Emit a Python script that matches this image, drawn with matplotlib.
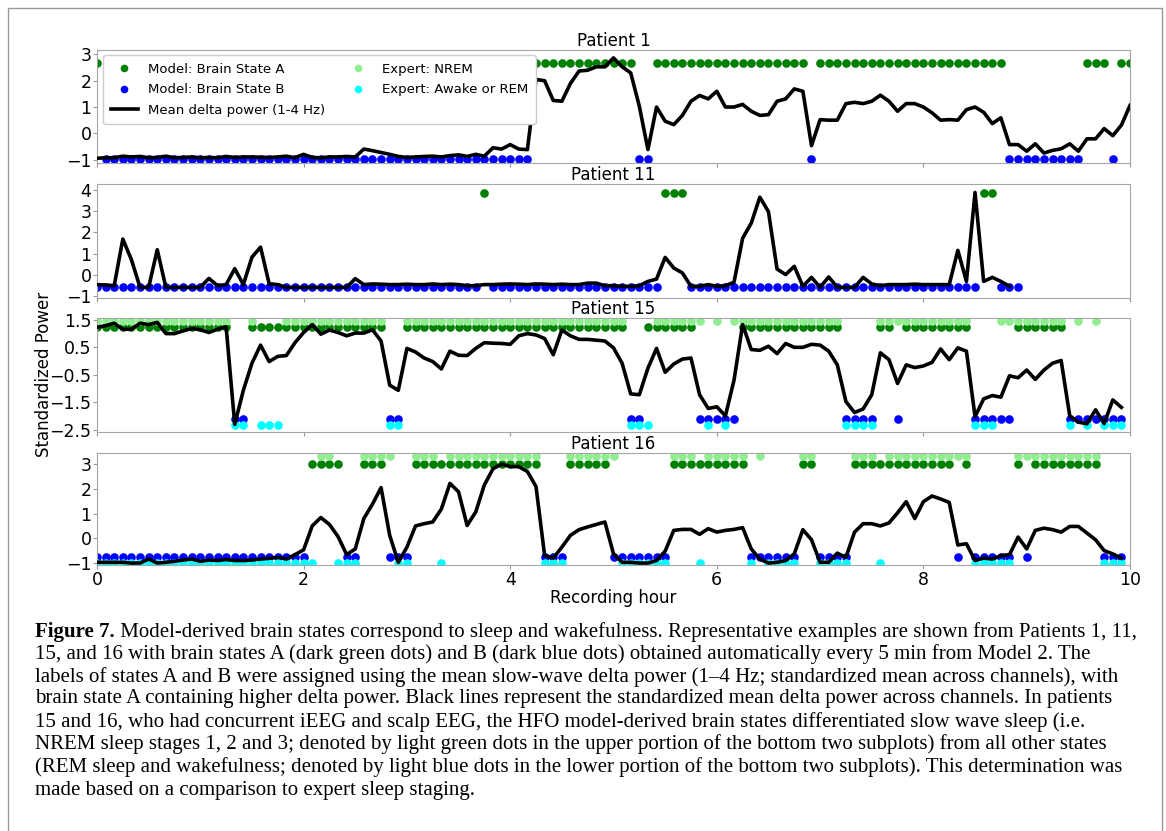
import numpy as np
import matplotlib.pyplot as plt
from matplotlib.lines import Line2D
from matplotlib.patches import Rectangle

# one value every 5 min
STEP_HOURS = 5 / 60

# --- mean delta power (standardized) per patient ---
p1_delta = [-0.95, -0.93, -0.93, -0.87, -0.9, -0.88, -0.93, -0.92, -0.87, -0.93,
            -0.92, -0.9, -0.93, -0.92, -0.93, -0.88, -0.92, -0.9, -0.9, -0.91,
            -0.92, -0.9, -0.87, -0.93, -0.8, -0.92, -0.93, -0.9, -0.9, -0.88,
            -0.9, -0.6, -0.66, -0.73, -0.8, -0.88, -0.92, -0.9, -0.88, -0.87,
            -0.9, -0.85, -0.82, -0.88, -0.8, -0.87, -0.55, -0.6, -0.43, -0.6,
            -0.62, 2.05, 2.0, 1.25, 1.22, 1.9, 2.37, 2.4, 2.53, 2.53,
            2.87, 2.53, 2.3, 1.03, -0.62, 1.0, 0.46, 0.33, 0.68, 1.22,
            1.44, 1.31, 1.6, 1.0, 1.0, 1.1, 0.84, 0.68, 0.71, 1.22,
            1.31, 1.69, 1.6, -0.47, 0.52, 0.5, 0.5, 1.13, 1.18, 1.13,
            1.22, 1.45, 1.22, 0.84, 1.13, 1.13, 1.0, 0.78, 0.5, 0.52,
            0.5, 0.9, 1.0, 0.8, 0.37, 0.59, -0.43, -0.43, -0.68, -0.4,
            -0.75, -0.65, -0.59, -0.4, -0.68, -0.21, -0.21, 0.18, -0.09, 0.31, 1.06]

p11_delta = [-0.45, -0.47, -0.5, 1.69, 0.72, -0.58, -0.58, 1.19, -0.58, -0.58,
             -0.58, -0.58, -0.58, -0.16, -0.5, -0.45, 0.3, -0.45, 0.84, 1.31,
             -0.41, -0.45, -0.58, -0.58, -0.58, -0.58, -0.58, -0.58, -0.58, -0.58,
             -0.17, -0.45, -0.42, -0.43, -0.45, -0.45, -0.43, -0.45, -0.45, -0.42,
             -0.45, -0.43, -0.45, -0.5, -0.5, -0.45, -0.45, -0.43, -0.42, -0.43,
             -0.45, -0.42, -0.43, -0.45, -0.43, -0.45, -0.45, -0.38, -0.38, -0.5,
             -0.5, -0.53, -0.53, -0.5, -0.3, -0.19, 0.83, 0.33, 0.1, -0.53,
             -0.53, -0.45, -0.53, -0.5, -0.34, 1.73, 2.44, 3.66, 2.98, 0.28,
             0.02, 0.41, -0.53, -0.11, -0.58, -0.09, -0.58, -0.58, -0.58, -0.11,
             -0.42, -0.5, -0.45, -0.45, -0.45, -0.43, -0.45, -0.45, -0.45, -0.45,
             1.16, -0.3, 3.88, -0.3, -0.11, -0.3, -0.53]

p15_delta = [1.23, 1.29, 1.38, 1.16, 1.16, 1.38, 1.33, 1.41, 1.0, 1.0,
             1.1, 1.19, 1.14, 1.04, 1.16, 1.25, -2.31, -1.07, -0.08, 0.58,
             -0.02, 0.17, 0.2, 0.67, 1.04, 1.33, 0.98, 1.13, 1.04, 0.92,
             1.02, 1.02, 1.14, 0.73, -0.88, -1.07, 0.46, 0.33, 0.11, -0.02,
             -0.29, 0.36, 0.21, 0.2, 0.46, 0.67, 0.65, 0.64, 0.61, 0.92,
             1.0, 0.95, 0.82, 0.23, 1.13, 0.92, 0.79, 0.79, 0.76, 0.73,
             0.48, -0.08, -1.2, -1.23, -0.26, 0.46, -0.41, -0.11, 0.07, 0.11,
             -1.23, -1.73, -1.67, -2.0, -0.7, 1.33, 0.42, 0.39, 0.54, 0.27,
             0.64, 0.5, 0.5, 0.61, 0.58, 0.36, -0.14, -1.48, -1.88, -1.75,
             -1.23, 0.3, 0.05, -0.82, -0.14, -0.24, -0.18, -0.05, 0.44, 0.05,
             0.48, 0.36, -2.03, -1.38, -1.26, -1.32, -0.54, -0.61, -0.33, -0.67,
             -0.33, -0.08, 0.02, -2.0, -2.23, -2.29, -1.78, -2.28, -1.42, -1.69]

p16_delta = [-0.97, -0.97, -0.97, -0.97, -1.0, -1.0, -0.84, -1.0, -0.97, -0.93,
             -0.88, -0.84, -0.93, -0.88, -0.9, -0.86, -0.9, -0.9, -0.88, -0.84,
             -0.81, -0.77, -0.84, -0.66, -0.47, 0.5, 0.84, 0.56, 0.07, -0.66,
             -0.43, 0.8, 1.38, 2.05, 0.12, -0.97, -0.36, 0.5, 0.59, 0.66,
             1.18, 2.22, 1.88, 0.52, 1.07, 2.16, 2.81, 3.0, 2.9, 2.9,
             2.7, 2.09, -0.7, -0.8, -0.36, 0.12, 0.35, 0.46, 0.56, 0.66,
             -0.63, -0.97, -0.97, -1.0, -1.0, -0.9, -0.52, 0.32, 0.36, 0.36,
             0.16, 0.39, 0.25, 0.32, 0.36, 0.43, -0.43, -0.84, -1.0, -0.97,
             -0.9, -0.63, 0.35, -0.06, -0.97, -0.97, -0.6, -0.77, 0.25, 0.59,
             0.59, 0.5, 0.62, 1.03, 1.48, 0.8, 1.48, 1.71, 1.59, 1.45,
             -0.27, -0.22, -0.9, -0.8, -0.84, -0.7, -0.66, 0.05, -0.43, 0.32,
             0.41, 0.35, 0.25, 0.48, 0.48, 0.21, -0.06, -0.5, -0.63, -0.81]

# --- model brain states (A/B), run lengths of 5-min epochs ---
p1_model = [("A", 1), ("B", 50), ("A", 12), ("B", 2), ("A", 18), ("B", 1),
            ("A", 22), ("B", 9), ("A", 3), ("B", 1), ("A", 2)]
p11_model = [("B", 45), ("A", 1), ("B", 20), ("A", 3), ("B", 34), ("A", 2), ("B", 3)]
p15_model = [("A", 16), ("B", 2), ("A", 16), ("B", 2), ("A", 26), ("B", 2), ("A", 6),
             ("B", 5), ("A", 12), ("B", 4), ("A", 2), ("B", 1), ("A", 8), ("B", 5),
             ("A", 6), ("B", 7)]
p16_model = [("B", 25), ("A", 4), ("B", 2), ("A", 3), ("B", 3), ("A", 15), ("B", 3),
             ("A", 5), ("B", 7), ("A", 9), ("B", 6), ("A", 2), ("B", 4), ("A", 12),
             ("B", 1), ("A", 1), ("B", 5), ("A", 1), ("B", 1), ("A", 8), ("B", 3)]

# --- expert sleep staging (N = NREM, W = awake or REM), only patients 15 and 16 ---
p15_expert = [("N", 16), ("W", 2), ("N", 1), ("W", 3), ("N", 12), ("W", 2), ("N", 26),
              ("W", 3), ("N", 6), ("W", 1), ("N", 1), ("W", 1), ("N", 13), ("W", 4),
              ("N", 11), ("W", 3), ("N", 8), ("W", 1), ("N", 1), ("W", 1), ("N", 1), ("W", 3)]
p16_expert = [("W", 26), ("N", 2), ("W", 3), ("N", 4), ("W", 2), ("N", 3), ("W", 1),
              ("N", 11), ("W", 3), ("N", 6), ("W", 6), ("N", 3), ("W", 1), ("N", 5),
              ("W", 1), ("N", 1), ("W", 4), ("N", 2), ("W", 4), ("N", 3), ("W", 1),
              ("N", 10), ("W", 5), ("N", 10), ("W", 3)]

# rows where the dots sit: A, B, NREM, awake
p1_levels = [2.68, -0.97, None, None]
p11_levels = [3.87, -0.58, None, None]
p15_levels = [1.23, -2.1, 1.45, -2.35]
p16_levels = [3.01, -0.74, 3.34, -0.99]

titles = ["Patient 1", "Patient 11", "Patient 15", "Patient 16"]
ylims = [(-1.13, 3.17), (-1.08, 4.28), (-2.59, 1.57), (-1.08, 3.45)]
yticks = [[-1, 0, 1, 2, 3], [-1, 0, 1, 2, 3, 4],
          [-2.5, -1.5, -0.5, 0.5, 1.5], [-1, 0, 1, 2, 3]]

caption = [
    "Model-derived brain states correspond to sleep and wakefulness. Representative examples are shown from Patients 1, 11,",
    "15, and 16 with brain states A (dark green dots) and B (dark blue dots) obtained automatically every 5 min from Model 2. The",
    "labels of states A and B were assigned using the mean slow-wave delta power (1\u20134 Hz; standardized mean across channels), with",
    "brain state A containing higher delta power. Black lines represent the standardized mean delta power across channels. In patients",
    "15 and 16, who had concurrent iEEG and scalp EEG, the HFO model-derived brain states differentiated slow wave sleep (i.e.",
    "NREM sleep stages 1, 2 and 3; denoted by light green dots in the upper portion of the bottom two subplots) from all other states",
    "(REM sleep and wakefulness; denoted by light blue dots in the lower portion of the bottom two subplots). This determination was",
    "made based on a comparison to expert sleep staging.",
]


def expand(runs):
    return np.array([lab for lab, n in runs for _ in range(n)])


def dots(ax, labels, which, level, color):
    x = np.arange(len(labels)) * STEP_HOURS
    sel = labels == which
    ax.plot(x[sel], np.full(sel.sum(), level), 'o', color=color, ms=6.2,
            mew=0, zorder=2)


W, H = 1166, 831
fig = plt.figure(figsize=(W / 100, H / 100), dpi=100)

# axes boxes in pixels: top, bottom
boxes = [(50, 163), (184, 298), (318, 432), (453, 565)]
left, right = 97, 1130

patients = [
    (p1_delta, p1_model, None, p1_levels),
    (p11_delta, p11_model, None, p11_levels),
    (p15_delta, p15_model, p15_expert, p15_levels),
    (p16_delta, p16_model, p16_expert, p16_levels),
]

axes = []
for k, (delta, model, expert, lev) in enumerate(patients):
    top, bot = boxes[k]
    ax = fig.add_axes([left / W, 1 - bot / H, (right - left) / W, (bot - top) / H])
    axes.append(ax)

    m = expand(model)
    dots(ax, m, "A", lev[0], "green")
    dots(ax, m, "B", lev[1], "blue")
    if expert is not None:
        e = expand(expert)
        dots(ax, e, "N", lev[2], "lightgreen")
        dots(ax, e, "W", lev[3], "cyan")

    xd = np.arange(len(delta)) * STEP_HOURS
    ax.plot(xd, delta, color="black", lw=2.6, zorder=3)

    ax.set_xlim(0, 10)
    ax.set_ylim(*ylims[k])
    ax.set_yticks(yticks[k])
    ax.set_xticks([0, 2, 4, 6, 8, 10])
    ax.set_title(titles[k], fontsize=12, pad=3)
    ax.tick_params(labelsize=12.5, length=3, color="0.6", pad=1)
    for s in ax.spines.values():
        s.set_color("0.65")
    if k < 3:
        ax.tick_params(labelbottom=False)

axes[-1].set_xlabel("Recording hour", fontsize=12, labelpad=0)
fig.text(0.038, 0.55, "Standardized Power", rotation=90, fontsize=12,
         ha="center", va="center")

# legend on the top panel
handles = [
    Line2D([], [], ls="", marker="o", color="green", ms=5.5, mew=0),
    Line2D([], [], ls="", marker="o", color="blue", ms=5.5, mew=0),
    Line2D([], [], color="black", lw=2.6),
    Line2D([], [], ls="", marker="o", color="lightgreen", ms=5.5, mew=0),
    Line2D([], [], ls="", marker="o", color="cyan", ms=5.5, mew=0),
]
labels = ["Model: Brain State A", "Model: Brain State B", "Mean delta power (1-4 Hz)",
          "Expert: NREM", "Expert: Awake or REM"]
axes[0].legend(handles, labels, ncol=2, loc="upper left", fontsize=9.5,
               bbox_to_anchor=(0.006, 0.955), borderaxespad=0, columnspacing=1.5,
               handlelength=2.0, labelspacing=0.55, borderpad=0.6,
               edgecolor="0.8", framealpha=1, fancybox=True)

# caption
cap_x = 35 / W
cap_y = [632, 654, 677, 699, 722, 744, 767, 790]
font = dict(family="Liberation Serif", fontsize=15.0, va="center", ha="left")
r = fig.canvas.get_renderer()
t = fig.text(cap_x, 1 - cap_y[0] / H, "Figure 7.", weight="bold", **font)
bw = t.get_window_extent(r).width / W
fig.text(cap_x + bw, 1 - cap_y[0] / H, " " + caption[0], **font)
for line, y in zip(caption[1:], cap_y[1:]):
    fig.text(cap_x, 1 - y / H, line, **font)

# thin page frame
fig.patches.append(Rectangle((8 / W, -0.02), (1162 - 8) / W, 1.02 - 8 / H,
                             transform=fig.transFigure, fill=False,
                             ec="0.6", lw=1))

fig.savefig("out.png", dpi=100)
